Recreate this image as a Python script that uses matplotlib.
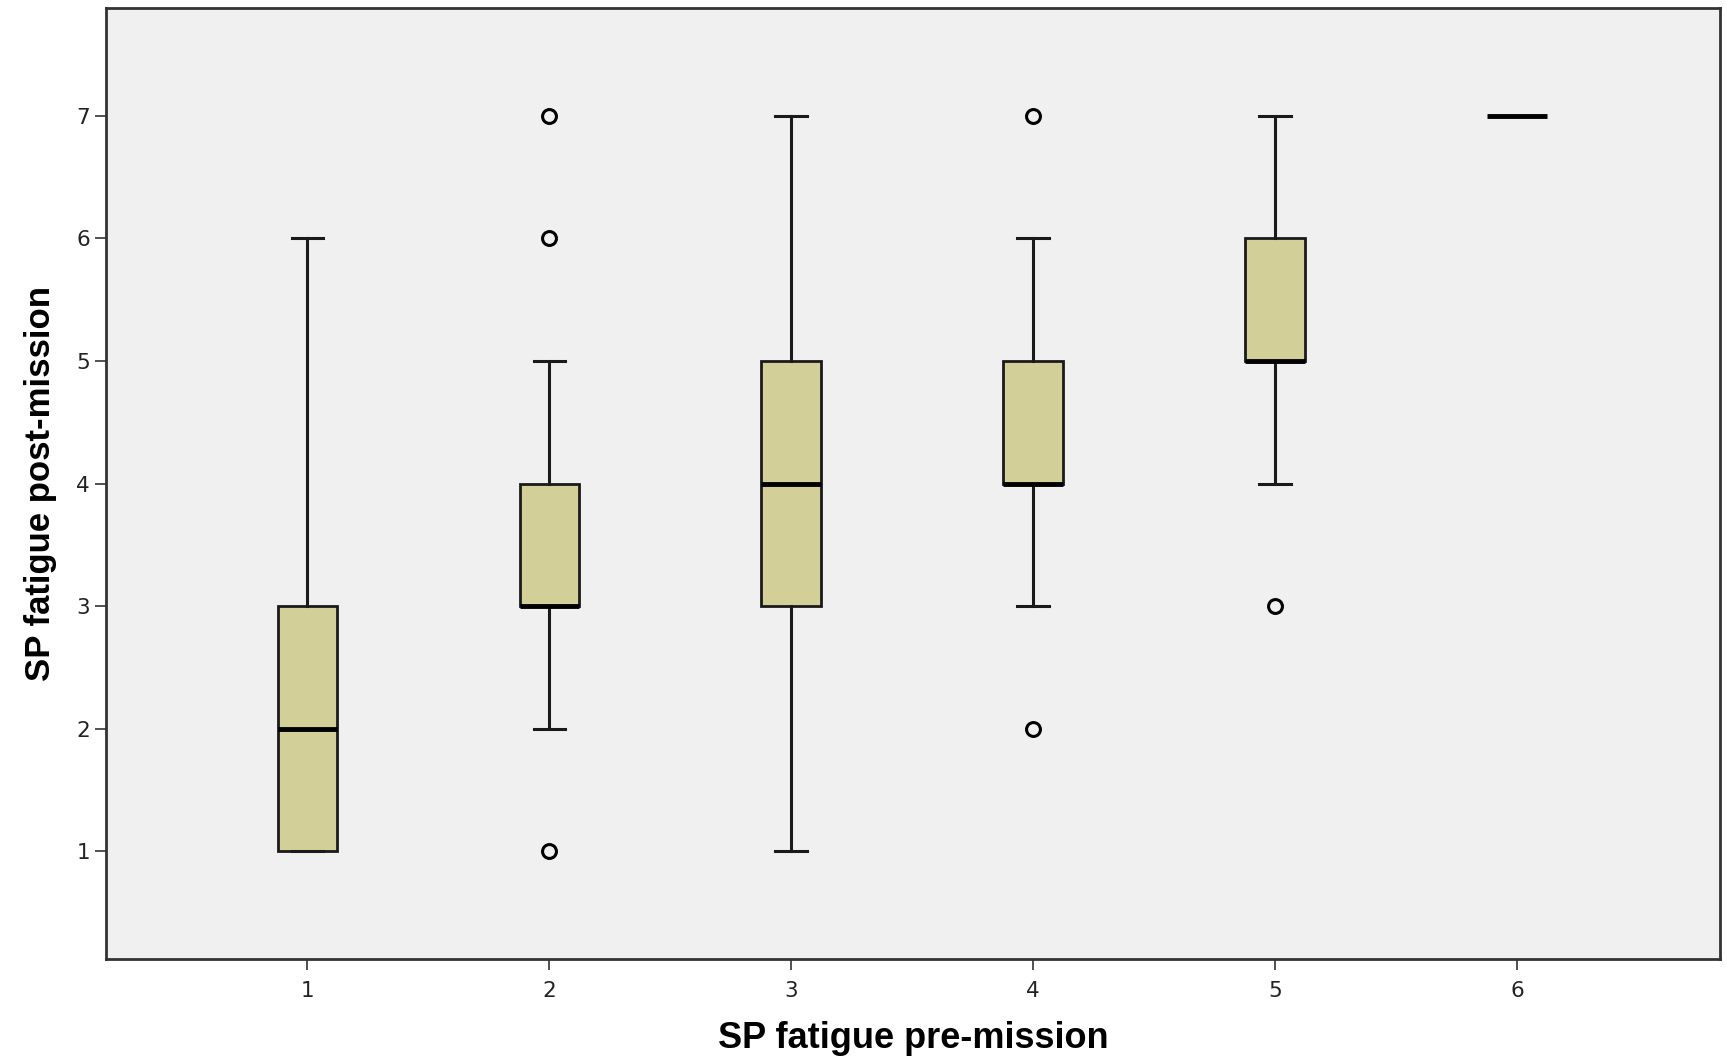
import matplotlib.pyplot as plt

# values
groups = [1, 2, 3, 4, 5, 6]
q1 = [1, 3, 3, 4, 5, 7]
medians = [2, 3, 4, 4, 5, 7]
q3 = [3, 4, 5, 5, 6, 7]
whisker_low = [1, 2, 1, 3, 4, 7]
whisker_high = [6, 5, 7, 6, 7, 7]
outliers = [[], [1, 6, 7], [], [2, 7], [3], []]

x_label = 'SP fatigue pre-mission'
y_label = 'SP fatigue post-mission'

stats = []
for i in range(len(groups)):
    stats.append({
        'med': medians[i], 'q1': q1[i], 'q3': q3[i],
        'whislo': whisker_low[i], 'whishi': whisker_high[i],
        'fliers': outliers[i], 'label': str(groups[i]),
    })

fig = plt.figure(figsize=(17.27, 10.57), dpi=100)
ax = fig.add_axes([0.0613, 0.0927, 0.9347, 0.8997])
ax.set_facecolor('#f0f0f0')

# single-value group (6) has no box, just the median line
box_stats = [s for s in stats if s['q1'] != s['q3']]
box_pos = [groups[i] for i, s in enumerate(stats) if s['q1'] != s['q3']]

ax.bxp(box_stats, positions=box_pos, widths=0.246, patch_artist=True,
       showcaps=True,
       boxprops=dict(facecolor='#d3cf98', edgecolor='#1a1a1a', linewidth=2),
       medianprops=dict(color='black', linewidth=3.5),
       whiskerprops=dict(color='#1a1a1a', linewidth=2.2),
       capprops=dict(color='#1a1a1a', linewidth=2.2),
       capwidths=0.13,
       flierprops=dict(marker='o', markerfacecolor='none', markeredgecolor='black',
                       markeredgewidth=2.2, markersize=10))

for i, s in enumerate(stats):
    if s['q1'] == s['q3']:
        ax.bxp([s], positions=[groups[i]], widths=0.246, showcaps=False,
               boxprops=dict(linewidth=0), whiskerprops=dict(linewidth=0),
               medianprops=dict(color='black', linewidth=3.5))

ax.set_xlim(0.167, 6.84)
ax.set_ylim(0.12, 7.88)
ax.set_xticks(groups)
ax.set_xticklabels([str(g) for g in groups])
ax.set_yticks([1, 2, 3, 4, 5, 6, 7])

for sp in ax.spines.values():
    sp.set_color('#333333')
    sp.set_linewidth(2)

ax.tick_params(axis='both', labelsize=15.5, length=8, width=1.2, color='#333333',
               labelcolor='#222222')
ax.tick_params(axis='x', pad=8)
ax.set_xlabel(x_label, fontsize=26, fontweight='bold', family='Liberation Sans', labelpad=14)
ax.set_ylabel(y_label, fontsize=25, fontweight='bold', family='Liberation Sans', labelpad=14)

fig.savefig('out.png', dpi=100)
